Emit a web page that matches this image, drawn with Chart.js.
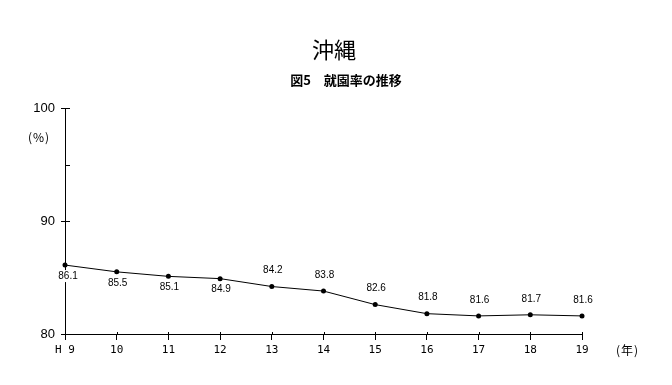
<!DOCTYPE html>
<html><head><meta charset="utf-8">
<script src="https://cdn.jsdelivr.net/npm/chart.js@4/dist/chart.umd.min.js"></script>
<style>
html,body{margin:0;padding:0;background:#fff;}
#wrap{position:relative;width:672px;height:385px;}
canvas{position:absolute;left:0;top:0;}
.t{position:absolute;font-family:"Noto Sans CJK JP",sans-serif;color:#000;white-space:nowrap;}
</style></head>
<body><div id="wrap">
<canvas id="c" width="672" height="385"></canvas>
<div class="t" style="left:334px;top:48px;transform:translate(-50%,-50%);font-size:22px;">沖縄</div>
<div class="t" style="left:346px;top:79px;transform:translate(-50%,-50%);font-size:13px;font-weight:bold;">図5　就園率の推移</div>
<div class="t" style="left:28px;top:136px;transform:translateY(-50%);font-size:12px;letter-spacing:1px;">(%)</div>
<div class="t" style="left:616px;top:349px;transform:translateY(-50%);font-size:12px;letter-spacing:1px;">(年)</div>
</div>
<script>
const categories = ["H 9","10","11","12","13","14","15","16","17","18","19"];
const values = [86.1,85.5,85.1,84.9,84.2,83.8,82.6,81.8,81.6,81.7,81.6];
const labelBelow = [true,true,true,true,false,false,false,false,false,false,false];
const yTicks = [80,90,100];

const extra = {
  id:'extra',
  afterDraw(chart){
    const ctx = chart.ctx, x = chart.scales.x, y = chart.scales.y;
    ctx.save();
    ctx.strokeStyle='#000'; ctx.lineWidth=1;
    [85,90,95,100].forEach(v=>{
      const py = Math.round(y.getPixelForValue(v))+0.5;
      ctx.beginPath(); ctx.moveTo(x.left, py); ctx.lineTo(x.left+5, py); ctx.stroke();
    });
    categories.forEach((c,i)=>{
      const px = Math.round(x.getPixelForValue(i))+0.5;
      ctx.beginPath(); ctx.moveTo(px, y.bottom); ctx.lineTo(px, y.bottom-2); ctx.stroke();
    });
    ctx.font='10px "Liberation Sans", sans-serif';
    ctx.textAlign='center'; ctx.textBaseline='middle';
    values.forEach((v,i)=>{
      const px = x.getPixelForValue(i) + (i===0?3:1);
      const py = y.getPixelForValue(v) + (labelBelow[i]?11:-16);
      const txt = v.toFixed(1);
      const w = ctx.measureText(txt).width;
      ctx.fillStyle='#fff'; ctx.fillRect(px-w/2-1, py-6, w+2, 12);
      ctx.fillStyle='#000'; ctx.fillText(txt, px, py);
    });
    ctx.restore();
  }
};

new Chart(document.getElementById('c'), {
  type:'line',
  data:{labels:categories, datasets:[{data:values, borderColor:'#000', borderWidth:1, backgroundColor:'#000',
    pointRadius:2.5, pointStyle:'circle', pointBorderWidth:0, tension:0, fill:false}]},
  options:{
    responsive:false, animation:false, devicePixelRatio:1,
    layout:{padding:{left:0,top:108,right:90,bottom:0}},
    plugins:{legend:{display:false}, tooltip:{enabled:false}, title:{display:false}},
    scales:{
      x:{type:'category', offset:false,
        grid:{display:true, drawOnChartArea:false, color:'#000', tickLength:6, tickColor:'#000'},
        border:{display:true, color:'#000'},
        ticks:{color:'#000', font:{family:'"DejaVu Sans Mono", monospace', size:11}, padding:4, maxRotation:0, autoSkip:false},
        afterFit(s){ s.height = 51; }
      },
      y:{min:80, max:100,
        grid:{display:true, drawOnChartArea:false, color:'#000', tickLength:4,
          tickColor:(c)=> (c.tick && yTicks.includes(c.tick.value)) ? '#000' : 'rgba(0,0,0,0)'},
        border:{display:true, color:'#000'},
        ticks:{stepSize:5, color:'#000', padding:6, font:{family:'"Liberation Sans", sans-serif', size:13},
          callback:(v)=> yTicks.includes(v) ? String(v) : ''},
        afterFit(s){ s.width = 65; }
      }
    }
  },
  plugins:[extra]
});
</script>
</body></html>
